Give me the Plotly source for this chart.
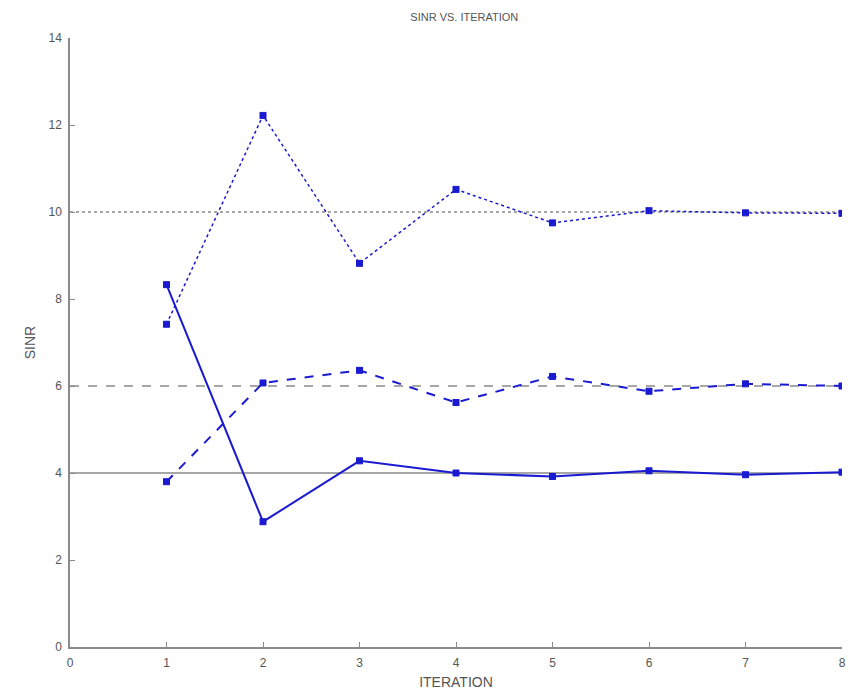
import plotly.graph_objects as go

iterations = [1, 2, 3, 4, 5, 6, 7, 8]
sinr_solid = [8.33, 2.88, 4.28, 4.0, 3.92, 4.05, 3.96, 4.02]
sinr_dashed = [3.8, 6.07, 6.36, 5.62, 6.22, 5.88, 6.05, 6.0]
sinr_dotted = [7.42, 12.22, 8.82, 10.52, 9.75, 10.03, 9.98, 9.97]
targets = [4, 6, 10]
target_dash = ["solid", "dash", "dot"]
x_range = [0, 8]
y_ticks = [0, 2, 4, 6, 8, 10, 12, 14]

blue = "#1a1ad0"
gray = "#8a8a8a"

fig = go.Figure()
for t, d in zip(targets, target_dash):
    fig.add_trace(go.Scatter(x=x_range, y=[t, t], mode="lines",
                             line=dict(color=gray, width=1.5, dash=d),
                             showlegend=False, hoverinfo="skip"))

for ys, d in [(sinr_solid, "solid"), (sinr_dashed, "dash"), (sinr_dotted, "dot")]:
    fig.add_trace(go.Scatter(x=iterations, y=ys, mode="lines+markers",
                             line=dict(color=blue, width=2 if d != "dot" else 1.5, dash=d),
                             marker=dict(symbol="square-x", size=6, color=blue,
                                         line=dict(color=blue, width=1)),
                             showlegend=False))

fig.update_layout(
    width=845, height=687,
    paper_bgcolor="white", plot_bgcolor="white",
    margin=dict(l=62, r=7, t=30, b=42),
    font=dict(family="Liberation Sans, Arial", size=12, color="#555"),
    title=dict(text="SINR VS. ITERATION", x=0.54, xanchor="center",
               y=0.986, yanchor="middle",
               font=dict(size=11, color="#555")),
    showlegend=False,
)
fig.update_xaxes(range=x_range, tickvals=list(range(0, 9)), ticks="inside",
                 ticklen=5, tickcolor=gray, showline=True, linecolor=gray,
                 linewidth=1.5, showgrid=False, zeroline=False,
                 ticklabelstandoff=4,
                 title=dict(text="ITERATION", standoff=8))
fig.update_yaxes(range=[0, 14], tickvals=y_ticks, ticks="inside",
                 ticklen=5, tickcolor=gray, showline=True, linecolor=gray,
                 linewidth=1.5, showgrid=False, zeroline=False,
                 ticklabelstandoff=4,
                 title=dict(text="SINR", standoff=10))

fig.write_html("out.html")
